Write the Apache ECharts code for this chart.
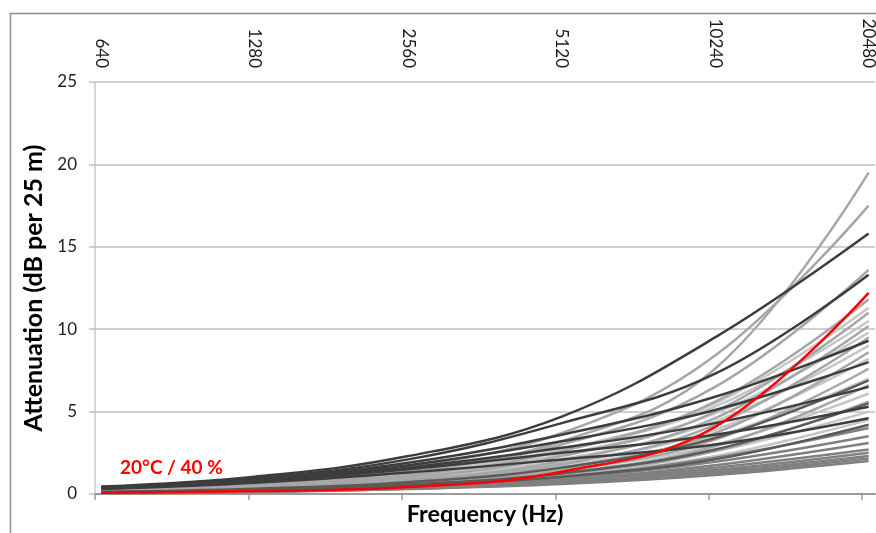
<!DOCTYPE html>
<html>
<head>
<meta charset="utf-8">
<script src="https://cdn.jsdelivr.net/npm/echarts@6/dist/echarts.min.js"></script>
<style>
html,body{margin:0;padding:0;background:#fff;overflow:hidden;}
#chart{width:876px;height:533px;}
</style>
</head>
<body>
<div id="chart"></div>
<script>
// Frequencies (Hz) at which values were read (octave steps)
const frequencies = [640, 1280, 2560, 5120, 10240, 20480];
const tickLabels = ['640', '1280', '2560', '5120', '10240', '20480'];

// Highlighted curve: 20°C / 40 %
const redCurve = [0.07, 0.18, 0.42, 1.35, 4.07, 12.2];
const redLabel = '20°C / 40 %';

// Dark gray curves
const darkCurves = [
  [0.45, 1.05, 2.3, 4.7, 9.5, 15.8],
  [0.42, 0.97, 2.1, 4.3, 7.3, 13.3],
  [0.40, 0.90, 1.9, 3.6, 5.9, 9.3],
  [0.38, 0.85, 1.75, 3.2, 5.1, 8.0],
  [0.36, 0.80, 1.6, 2.8, 4.3, 6.5],
  [0.34, 0.75, 1.5, 2.5, 3.6, 5.3],
  [0.30, 0.68, 1.3, 2.1, 3.0, 4.6]
];

// Medium-dark curves
const midDarkCurves = [
  [0.13, 0.32, 0.72, 1.6, 3.4, 6.9],
  [0.10, 0.25, 0.58, 1.25, 2.7, 5.5],
  [0.09, 0.22, 0.50, 1.05, 2.1, 4.2]
];

// Medium gray curves (lowest group)
const midCurves = [
  [0.05, 0.12, 0.30, 0.60, 1.15, 2.0],
  [0.06, 0.14, 0.32, 0.65, 1.25, 2.15],
  [0.06, 0.15, 0.34, 0.70, 1.35, 2.3],
  [0.07, 0.16, 0.36, 0.75, 1.45, 2.5],
  [0.07, 0.17, 0.38, 0.80, 1.6, 2.7],
  [0.08, 0.18, 0.40, 0.85, 1.75, 3.1],
  [0.08, 0.20, 0.45, 0.95, 1.95, 3.5],
  [0.09, 0.22, 0.50, 1.05, 2.2, 4.0]
];

// Light gray curves
const lightCurves = [
  [0.28, 0.65, 1.45, 3.2, 7.6, 19.5],
  [0.32, 0.75, 1.65, 3.7, 8.4, 17.5],
  [0.25, 0.60, 1.35, 3.0, 6.5, 13.6],
  [0.20, 0.50, 1.15, 2.6, 5.6, 11.8],
  [0.18, 0.45, 1.0, 2.3, 5.0, 11.0],
  [0.15, 0.38, 0.85, 2.0, 4.6, 10.2],
  [0.14, 0.35, 0.80, 1.8, 4.2, 9.5],
  [0.12, 0.30, 0.70, 1.6, 3.7, 8.6],
  [0.11, 0.28, 0.65, 1.45, 3.3, 7.6],
  [0.10, 0.25, 0.58, 1.3, 2.9, 6.6],
  [0.10, 0.24, 0.55, 1.2, 2.6, 5.6]
];

// Pale gray curves
const paleCurves = [
  [0.22, 0.52, 1.2, 2.7, 5.5, 11.3],
  [0.24, 0.56, 1.25, 2.7, 5.3, 10.5],
  [0.20, 0.48, 1.1, 2.4, 4.9, 9.8],
  [0.17, 0.42, 0.95, 2.1, 4.4, 9.0],
  [0.16, 0.40, 0.90, 1.9, 3.9, 8.2],
  [0.14, 0.34, 0.78, 1.7, 3.5, 7.0],
  [0.12, 0.30, 0.68, 1.45, 3.0, 6.1],
  [0.11, 0.27, 0.60, 1.3, 2.6, 5.0],
  [0.09, 0.22, 0.50, 1.1, 2.3, 4.5]
];

const FONT = 'Lato, "Open Sans", sans-serif';
const chart = echarts.init(document.getElementById('chart'), null, {renderer: 'canvas', width: 876, height: 533});

const halfStep = Math.pow(2, 1 / 24);
const xMin = frequencies[0] / halfStep;
const xMax = frequencies[frequencies.length - 1] * halfStep;

function mk(values, color, width, z) {
  return {
    type: 'line',
    xAxisIndex: 0,
    yAxisIndex: 0,
    data: values.map((v, i) => [frequencies[i], v]),
    smooth: 0.4,
    showSymbol: false,
    symbol: 'none',
    silent: true,
    z: z,
    lineStyle: {color: color, width: width}
  };
}

const series = [];
paleCurves.forEach(c => series.push(mk(c, '#c6c6c6', 2.5, 2)));
midCurves.forEach(c => series.push(mk(c, '#808080', 2.5, 3)));
lightCurves.forEach(c => series.push(mk(c, '#a6a6a6', 2.5, 4)));
midDarkCurves.forEach(c => series.push(mk(c, '#5a5a5a', 2.5, 5)));
darkCurves.forEach(c => series.push(mk(c, '#3d3d3d', 2.5, 6)));
series.push(mk(redCurve, '#ff0000', 2.5, 10));

const option = {
  backgroundColor: '#ffffff',
  animation: false,
  grid: {left: 95, right: 1, top: 82, bottom: 39, containLabel: false, outerBoundsMode: 'none'},
  xAxis: [
    {
      type: 'log', logBase: 2, position: 'bottom',
      min: xMin, max: xMax,
      name: 'Frequency (Hz)', nameLocation: 'middle', nameGap: 8,
      nameTextStyle: {fontFamily: FONT, fontWeight: 'bold', fontSize: 23.5, color: '#000'},
      axisLine: {show: true, lineStyle: {color: '#9a9a9a', width: 2}},
      axisTick: {show: true, length: 6, lineStyle: {color: '#9a9a9a', width: 1.5},
        customValues: frequencies.map(f => f / halfStep)},
      axisLabel: {show: false},
      splitLine: {show: false}
    },
    {
      type: 'log', logBase: 2, position: 'top',
      min: xMin, max: xMax,
      axisLine: {show: false},
      axisTick: {show: false},
      axisLabel: {show: true, rotate: 90, margin: 14, fontFamily: FONT, fontSize: 17, color: '#1a1a1a',
        customValues: frequencies,
        formatter: v => tickLabels[frequencies.indexOf(Math.round(v))] || String(Math.round(v))},
      splitLine: {show: false}
    }
  ],
  yAxis: {
    type: 'value', min: 0, max: 25, interval: 5,
    name: 'Attenuation (dB per 25 m)', nameLocation: 'middle', nameGap: 40,
    nameTextStyle: {fontFamily: FONT, fontWeight: 'bold', fontSize: 25, color: '#000'},
    axisLine: {show: true, lineStyle: {color: '#c8c8c8', width: 1.5}},
    axisTick: {show: true, length: 6, lineStyle: {color: '#c0c0c0', width: 1.5}},
    axisLabel: {margin: 18, fontFamily: FONT, fontSize: 17, color: '#222'},
    splitLine: {show: true, lineStyle: {color: '#c0c0c0', width: 1.5}}
  },
  graphic: [
    {type: 'rect', left: 8, top: 11, silent: true, z: -1,
      shape: {x: 0, y: 0, width: 1000, height: 1000},
      style: {fill: 'none', stroke: '#8c8c8c', lineWidth: 1.5}},
    {type: 'text', left: 120, top: 458, silent: true, z: 20,
      style: {text: redLabel, fill: '#ff0000', font: 'bold 19px ' + FONT}}
  ],
  series: series
};
chart.setOption(option);
</script>
</body>
</html>
